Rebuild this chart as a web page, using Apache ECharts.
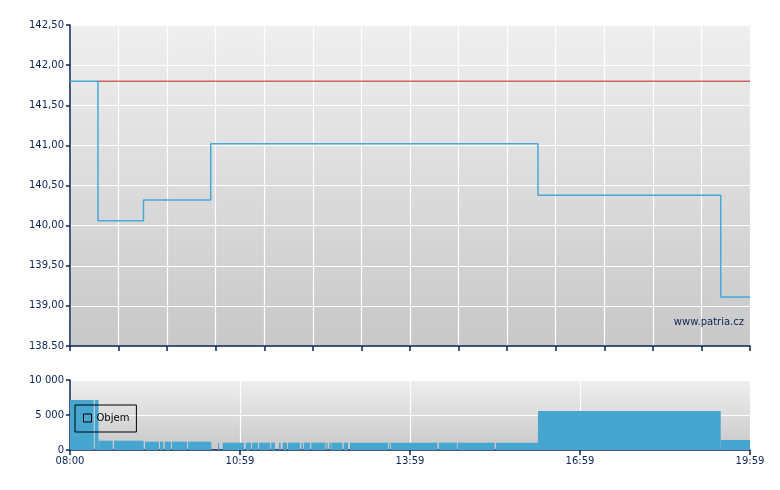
<!DOCTYPE html>
<html>
<head>
<meta charset="utf-8">
<script src="https://cdn.jsdelivr.net/npm/echarts@6/dist/echarts.min.js"></script>
<style>html,body{margin:0;padding:0;background:#fff}#c{width:780px;height:490px}</style>
</head>
<body>
<div id="c"></div>
<script>
// Time is in minutes after 08:00 (axis spans 08:00 .. 20:00)
var priceTimes  = [0, 29.6, 77.8, 149, 495.5, 689, 720];
var priceValues = [141.80, 140.06, 140.32, 141.02, 140.38, 139.11, 139.11];
var prevClose = 141.80;
var prevCloseFrom = 29.6;

var priceTickLabels = ["138.50","139,00","139,50","140,00","140,50","141,00","141,50","142,00","142,50"];
var timeTickLabels = ["08:00","10:59","13:59","16:59","19:59"];
var volTickLabels = ["0","5 000","10 000"];

// volume blocks: start, end (minutes after 08:00), value
var volStart = [0, 26.2, 30.2, 46.6, 79.4, 95.3, 100.3, 108.0, 124.9, 156.7, 161.7, 186.0, 192.7, 200.2, 213.1, 221.3, 225.2, 230.8, 245.0, 247.8, 255.5, 271.4, 274.6, 277.1, 289.8, 296.5, 337.8, 339.6, 390.7, 410.5, 451.1, 495.5, 689.0];
var volEnd   = [25.1, 30.2, 45.2, 78.0, 94.2, 98.8, 106.9, 123.9, 149.6, 157.8, 184.2, 191.6, 199.1, 212.0, 217.0, 223.0, 229.8, 243.5, 246.8, 254.1, 270.4, 272.8, 276.7, 288.3, 294.4, 336.7, 338.8, 389.0, 409.6, 449.7, 495.5, 689.0, 720];
var volValue = [7140, 7140, 1330, 1330, 1190, 1190, 1190, 1190, 1190, 1040, 1040, 1040, 1040, 1040, 1040, 1040, 1040, 1040, 1040, 1040, 1040, 1040, 1040, 1040, 1040, 1040, 1040, 1040, 1040, 1040, 1040, 5570, 1430];

var FONT = 'DejaVu Sans';
var NAVY = '#0a2456';
var BLUE = '#47a6cf';
var bg = {type:'linear', x:0, y:0, x2:0, y2:1, colorStops:[{offset:0,color:'#efefef'},{offset:1,color:'#c8c8c8'}]};

var priceData = priceTimes.map(function(t,i){return [t, priceValues[i]];});
var volData = volStart.map(function(s,i){return [s, volEnd[i], volValue[i]];});

var chart = echarts.init(document.getElementById('c'), null, {renderer:'canvas'});
chart.setOption({
  animation:false,
  backgroundColor:'#ffffff',
  grid:[
    {left:70, right:30, top:25, height:321, show:true, backgroundColor:bg, borderWidth:0},
    {left:70, right:30, top:380, height:70, show:true, backgroundColor:bg, borderWidth:0}
  ],
  legend:{
    data:[{name:'Objem', icon:'rect', itemStyle:{color:'transparent', borderColor:'#000', borderWidth:1}}],
    left:75, top:405, orient:'vertical',
    padding:[8,7,9,8], itemWidth:8, itemHeight:8, itemGap:5,
    borderColor:'#000', borderWidth:1, backgroundColor:'transparent',
    textStyle:{fontFamily:FONT, fontSize:10, color:'#000'},
    selectedMode:false
  },
  graphic:[{type:'text', right:36, top:317, z:10, style:{text:'www.patria.cz', font:'10px "DejaVu Sans"', fill:NAVY}}],
  xAxis:[
    {type:'value', gridIndex:0, min:0, max:720, interval:720/14,
     axisLine:{show:true, onZero:false, lineStyle:{color:NAVY, width:1.5}},
     axisTick:{show:true, length:5, lineStyle:{color:NAVY, width:1.5}},
     axisLabel:{show:false},
     splitLine:{show:true, lineStyle:{color:'#ffffff', width:1.2}}},
    {type:'value', gridIndex:1, min:0, max:720, interval:180,
     axisLine:{show:true, onZero:false, lineStyle:{color:NAVY, width:1.5}},
     axisTick:{show:true, length:5, lineStyle:{color:NAVY, width:1.5}},
     axisLabel:{show:true, margin:6, color:NAVY, fontFamily:FONT, fontSize:10,
       formatter:function(v){return timeTickLabels[Math.round(v/180)];}},
     splitLine:{show:true, lineStyle:{color:'#ffffff', width:1.2}}}
  ],
  yAxis:[
    {type:'value', gridIndex:0, min:138.5, max:142.5, interval:0.5,
     axisLine:{show:true, lineStyle:{color:NAVY, width:1.5}},
     axisTick:{show:true, length:4, lineStyle:{color:NAVY, width:1.5}},
     axisLabel:{margin:6, color:NAVY, fontFamily:FONT, fontSize:10,
       formatter:function(v){return priceTickLabels[Math.round((v-138.5)/0.5)];}},
     splitLine:{show:true, lineStyle:{color:'#ffffff', width:1.2}}},
    {type:'value', gridIndex:1, min:0, max:10000, interval:5000,
     axisLine:{show:true, lineStyle:{color:NAVY, width:1.5}},
     axisTick:{show:true, length:4, lineStyle:{color:NAVY, width:1.5}},
     axisLabel:{margin:6, color:NAVY, fontFamily:FONT, fontSize:10,
       formatter:function(v){return volTickLabels[Math.round(v/5000)];}},
     splitLine:{show:true, lineStyle:{color:'#ffffff', width:1.2}}}
  ],
  series:[
    {type:'line', name:'prev', xAxisIndex:0, yAxisIndex:0, data:[[prevCloseFrom, prevClose],[720, prevClose]],
     symbol:'none', lineStyle:{color:'#c42020', width:1}, z:2, silent:true},
    {type:'line', name:'Cena', xAxisIndex:0, yAxisIndex:0, data:priceData, step:'end',
     symbol:'none', lineStyle:{color:'#4aa8d6', width:1.5}, z:3},
    {type:'custom', name:'Objem', xAxisIndex:1, yAxisIndex:1, data:volData,
     encode:{x:[0,1], y:2},
     itemStyle:{color:BLUE},
     renderItem:function(params, api){
       var s = api.coord([api.value(0), api.value(2)]);
       var e = api.coord([api.value(1), 0]);
       return {type:'rect', shape:{x:s[0], y:s[1], width:e[0]-s[0], height:e[1]-s[1]}, style:{fill:BLUE}};
     }, z:2}
  ]
});
</script>
</body>
</html>
